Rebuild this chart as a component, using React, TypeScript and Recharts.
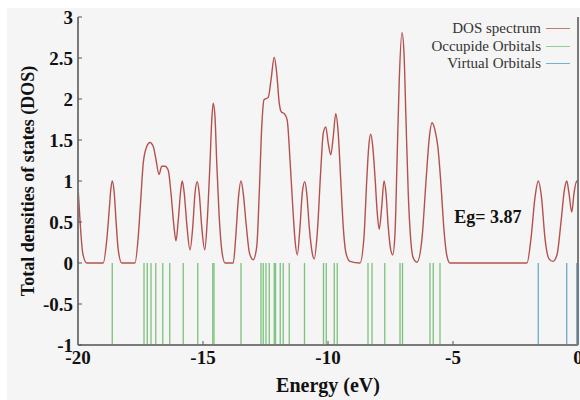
import React from 'react'
import {
  ComposedChart,
  Line,
  XAxis,
  YAxis,
  ReferenceLine,
  ReferenceDot
} from 'recharts'

// DOS curve (energy in eV, total DOS)
const energy = [
  -20.0, -19.92, -19.81, -19.65, -18.99, -18.85, -18.76, -18.69, -18.63, -18.55,
  -18.48, -18.39, -18.25, -17.72, -17.59, -17.49, -17.39, -17.25, -17.12, -16.99,
  -16.88, -16.76, -16.65, -16.52, -16.39, -16.28, -16.16, -16.08, -15.99, -15.89,
  -15.83, -15.75, -15.65, -15.52, -15.41, -15.32, -15.23, -15.15, -15.05, -14.93,
  -14.83, -14.72, -14.65, -14.59, -14.52, -14.45, -14.36, -14.25, -14.12, -13.79,
  -13.69, -13.59, -13.48, -13.39, -13.27, -13.14, -12.99, -12.85, -12.75, -12.65,
  -12.56, -12.39, -12.28, -12.15, -12.05, -11.95, -11.88, -11.72, -11.63, -11.52,
  -11.41, -11.32, -11.23, -11.12, -11.03, -10.93, -10.85, -10.75, -10.63, -10.55,
  -10.43, -10.29, -10.19, -10.09, -9.99, -9.89, -9.79, -9.69, -9.6, -9.49,
  -9.39, -9.28, -9.12, -8.72, -8.56, -8.45, -8.37, -8.29, -8.21, -8.12,
  -8.03, -7.95, -7.85, -7.76, -7.68, -7.59, -7.49, -7.41, -7.32, -7.23,
  -7.15, -7.04, -6.96, -6.88, -6.79, -6.69, -6.59, -6.44, -6.24, -6.08,
  -5.94, -5.84, -5.72, -5.6, -5.48, -5.36, -5.24, -5.12, -2.04, -1.88,
  -1.72, -1.59, -1.46, -1.32, -1.16, -1.0, -0.84, -0.68, -0.54, -0.45,
  -0.36, -0.25, -0.16, -0.05, 0.0
]
const dos = [
  0.93, 0.52, 0.12, 0.0, 0.0, 0.28, 0.61, 0.89, 1.0, 0.85,
  0.52, 0.16, 0.0, 0.0, 0.32, 0.77, 1.22, 1.42, 1.47, 1.42,
  1.26, 1.08, 1.18, 1.18, 1.13, 0.85, 0.44, 0.27, 0.52, 0.89,
  1.0, 0.85, 0.48, 0.16, 0.44, 0.85, 0.99, 0.85, 0.44, 0.16,
  0.52, 1.22, 1.74, 1.95, 1.78, 1.22, 0.61, 0.16, 0.0, 0.0,
  0.32, 0.77, 1.0, 0.85, 0.46, 0.12, 0.04, 0.2, 0.85, 1.66,
  1.99, 2.02, 2.23, 2.51, 2.31, 1.95, 1.85, 1.81, 1.74, 1.26,
  0.69, 0.28, 0.1, 0.44, 0.85, 0.99, 0.85, 0.44, 0.12, 0.05,
  0.36, 1.13, 1.58, 1.66, 1.46, 1.32, 1.54, 1.82, 1.62, 1.01,
  0.44, 0.12, 0.02, 0.0, 0.32, 1.01, 1.42, 1.57, 1.42, 1.05,
  0.61, 0.41, 0.69, 1.0, 0.85, 0.44, 0.16, 0.1, 0.36, 1.34,
  2.23, 2.81, 2.56, 1.74, 0.85, 0.28, 0.06, 0.01, 0.3, 1.0,
  1.55, 1.71, 1.62, 1.4, 0.95, 0.4, 0.08, 0.0, 0.0, 0.3,
  0.8, 1.0, 0.8, 0.3, 0.05, 0.02, 0.1, 0.5, 0.9, 1.0,
  0.85, 0.62, 0.85, 1.0, 0.95
]

const occupiedLevels = [
  -18.63, -17.36, -17.23, -17.08, -16.89, -16.61, -16.33, -15.79, -15.21, -14.61,
  -14.56, -13.48, -12.68, -12.59, -12.48, -12.35, -12.15, -12.1, -11.91, -11.79,
  -11.55, -10.94, -10.18, -10.07, -9.75, -9.63, -8.4, -8.24, -7.73, -7.12,
  -7.02, -5.92, -5.79, -5.52
]
const virtualLevels = [-1.59, -0.45, -0.05]

const xTicks = [-20, -15, -10, -5, 0]
const yTicks = [-1, -0.5, 0, 0.5, 1, 1.5, 2, 2.5, 3]
const gapLabel = 'Eg= 3.87'

const legendItems = [
  { name: 'DOS spectrum', color: '#c27a78' },
  { name: 'Occupide Orbitals', color: '#8fcf8f' },
  { name: 'Virtual Orbitals', color: '#72b2cf' }
]

const serif = '"Liberation Serif", "Times New Roman", serif'
const curveColor = '#b4514e'
const occColor = '#7cc27c'
const virtColor = '#6aaac9'
const axisColor = '#7a7a7a'

const data = energy.map((e, i) => ({ e, dos: dos[i] }))

const tickStyle = { fill: '#111', fontSize: 19, fontWeight: 'bold', fontFamily: serif }

const YTitle = ({ viewBox }: any) => {
  const x = 28
  const y = viewBox.y + viewBox.height / 2
  return (
    <text
      x={x}
      y={y}
      transform={`rotate(-90 ${x} ${y})`}
      textAnchor="middle"
      dominantBaseline="central"
      fontFamily={serif}
      fontSize={18}
      fontWeight="bold"
      fill="#111"
    >
      Total densities of states (DOS)
    </text>
  )
}

export default function App() {
  return (
    <div style={{ position: 'fixed', left: 0, top: 0, width: 580, height: 400, background: '#fff' }}>
      <div style={{ position: 'absolute', left: 7, top: 8, width: 573, height: 392, background: '#f5f5f5' }} />
      <div style={{ position: 'absolute', left: 0, top: 0 }}>
        <ComposedChart
          width={580}
          height={400}
          data={data}
          margin={{ top: 17, right: 0, bottom: 0, left: 0 }}
        >
          <XAxis
            dataKey="e"
            type="number"
            domain={[-20, 0]}
            ticks={xTicks}
            interval={0}
            height={55}
            tickSize={-4}
            tickMargin={10}
            axisLine={{ stroke: axisColor, strokeWidth: 2 }}
            tickLine={{ stroke: '#555' }}
            tick={tickStyle}
            label={{
              value: 'Energy (eV)',
              position: 'insideBottom',
              offset: 8,
              style: { fill: '#111', fontSize: 20, fontWeight: 'bold', fontFamily: serif }
            }}
          />
          <XAxis
            xAxisId="top"
            orientation="top"
            type="number"
            domain={[-20, 0]}
            height={0}
            tick={false}
            axisLine={{ stroke: '#8a8a8a', strokeWidth: 2.5 }}
          />
          <YAxis
            type="number"
            domain={[-1, 3]}
            ticks={yTicks}
            interval={0}
            width={78}
            tickSize={-4}
            tickMargin={9}
            axisLine={{ stroke: axisColor, strokeWidth: 2 }}
            tickLine={{ stroke: '#555' }}
            tick={tickStyle}
            label={<YTitle />}
          />
          <YAxis
            yAxisId="right"
            orientation="right"
            type="number"
            domain={[-1, 3]}
            ticks={yTicks}
            interval={0}
            width={2}
            tickSize={-4}
            tickFormatter={() => ''}
            axisLine={{ stroke: axisColor, strokeWidth: 2 }}
            tickLine={{ stroke: '#555' }}
          />
          {occupiedLevels.map((e, i) => (
            <ReferenceLine
              key={`occ-${i}`}
              segment={[{ x: e, y: 0 }, { x: e, y: -1 }]}
              stroke={occColor}
              strokeWidth={1.3}
            />
          ))}
          {virtualLevels.map((e, i) => (
            <ReferenceLine
              key={`virt-${i}`}
              segment={[{ x: e, y: 0 }, { x: e, y: -1 }]}
              stroke={virtColor}
              strokeWidth={1.3}
            />
          ))}
          <Line
            dataKey="dos"
            type="monotone"
            stroke={curveColor}
            strokeWidth={1.4}
            dot={false}
            activeDot={false}
            isAnimationActive={false}
          />
          <ReferenceDot
            x={-3.6}
            y={0.56}
            r={0}
            fill="none"
            stroke="none"
            label={{
              value: gapLabel,
              position: 'center',
              style: { fill: '#111', fontSize: 18, fontWeight: 'bold', fontFamily: serif }
            }}
          />
        </ComposedChart>
      </div>
      <div style={{ position: 'absolute', left: 370, top: 20, width: 200 }}>
        {legendItems.map(item => (
          <div
            key={item.name}
            style={{
              height: 17.5,
              display: 'flex',
              justifyContent: 'flex-end',
              alignItems: 'center',
              fontFamily: serif,
              fontSize: 15,
              color: '#333'
            }}
          >
            <span>{item.name}</span>
            <span style={{ display: 'inline-block', width: 24, borderTop: `1.5px solid ${item.color}`, marginLeft: 5 }} />
          </div>
        ))}
      </div>
    </div>
  )
}
